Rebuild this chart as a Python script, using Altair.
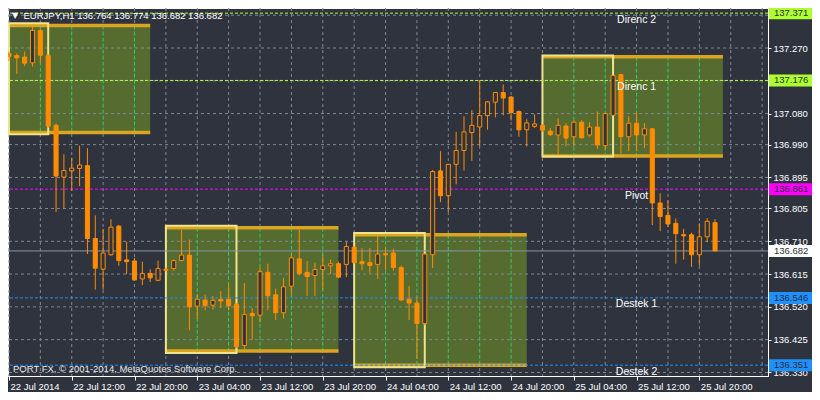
import altair as alt
import pandas as pd

# ---------------- data ----------------
opens = [137.254,137.248,137.244,137.227,137.321,137.248,137.046,136.896,136.914,136.921,
 136.929,136.718,136.629,136.671,136.754,136.656,136.653,136.601,136.617,136.597,
 136.629,136.631,136.654,136.670,136.522,136.540,136.525,136.542,136.542,136.528,
 136.408,136.501,136.496,136.620,136.555,136.503,136.580,136.659,136.620,136.611,
 136.628,136.639,136.645,136.643,136.693,136.651,136.648,136.643,136.674,136.676,
 136.634,136.542,136.531,136.472,136.671,136.914,136.842,136.933,136.973,137.025,
 137.041,137.074,137.113,137.141,137.128,137.086,137.033,137.043,137.046,137.029,
 137.018,137.044,137.013,137.055,137.018,137.041,136.987,137.075,137.193,137.013,
 137.052,137.018,137.036,136.821,136.785,136.762,136.729,136.729,136.671,136.723,
 136.764]
highs = [137.260,137.254,137.260,137.331,137.324,137.251,137.052,136.962,136.952,136.987,
 136.980,136.785,136.746,136.774,136.757,136.709,136.662,136.651,136.629,136.654,
 136.634,136.657,136.744,136.715,136.555,136.555,136.552,136.566,136.584,136.530,
 136.589,136.517,136.634,136.645,136.573,136.604,136.673,136.744,136.653,136.648,
 136.671,136.657,136.651,136.709,136.696,136.690,136.690,136.725,136.692,136.688,
 136.640,136.581,136.550,136.676,136.917,136.971,136.934,137.027,137.072,137.090,
 137.176,137.116,137.142,137.164,137.131,137.089,137.064,137.078,137.049,137.038,
 137.066,137.052,137.060,137.061,137.055,137.086,137.083,137.192,137.195,137.072,
 137.083,137.052,137.038,136.849,136.828,136.776,136.746,136.735,136.762,136.777,
 136.774]
lows = [137.232,137.195,137.217,137.216,137.227,137.038,136.795,136.804,136.856,136.870,
 136.673,136.570,136.570,136.668,136.639,136.615,136.596,136.583,136.592,136.595,
 136.623,136.625,136.652,136.452,136.484,136.510,136.512,136.517,136.510,136.401,
 136.397,136.425,136.475,136.510,136.482,136.486,136.555,136.611,136.552,136.552,
 136.570,136.615,136.603,136.606,136.645,136.626,136.617,136.601,136.626,136.625,
 136.536,136.482,136.369,136.466,136.632,136.823,136.795,136.875,136.915,136.943,
 136.985,137.033,137.069,137.075,137.060,137.013,136.985,137.038,137.027,137.015,
 136.961,136.985,136.985,137.007,137.013,136.978,136.975,137.074,136.965,136.971,
 136.971,136.980,136.757,136.739,136.751,136.645,136.657,136.636,136.639,136.707,
 136.682]
closes = [137.246,137.241,137.226,137.321,137.249,137.044,136.899,136.915,136.922,136.931,
 136.718,136.632,136.676,136.751,136.654,136.651,136.598,136.617,136.604,136.631,
 136.626,136.654,136.670,136.520,136.542,136.524,136.539,136.537,136.524,136.405,
 136.498,136.494,136.622,136.552,136.503,136.578,136.662,136.617,136.608,136.628,
 136.639,136.645,136.606,136.695,136.648,136.645,136.640,136.673,136.671,136.634,
 136.540,136.531,136.472,136.673,136.912,136.842,136.933,136.973,137.027,137.046,
 137.074,137.114,137.141,137.125,137.083,137.033,137.053,137.050,137.032,137.019,
 137.046,137.009,137.055,137.010,137.041,136.989,137.080,137.190,137.013,137.052,
 137.018,137.036,136.821,136.782,136.760,136.732,136.726,136.671,136.723,136.768,
 136.682]

price_ticks = [137.270, 137.080, 136.990, 136.895, 136.805, 136.710,
               136.615, 136.520, 136.425, 136.330]
grid_prices = [137.365, 137.270, 137.175, 137.080, 136.990, 136.895, 136.805,
               136.710, 136.615, 136.520, 136.425, 136.330]
grid_bars = list(range(0, 97, 4))
time_ticks = list(range(0, 89, 8))
time_labels = ["22 Jul 2014", "22 Jul 12:00", "22 Jul 20:00", "23 Jul 04:00",
               "23 Jul 12:00", "23 Jul 20:00", "24 Jul 04:00", "24 Jul 12:00",
               "24 Jul 20:00", "25 Jul 04:00", "25 Jul 12:00", "25 Jul 20:00"]

box_start = [0, 20, 44, 68]
box_end = [18, 42, 66, 91]
session_end = [5, 29, 53, 77]
box_high = [137.335, 136.749, 136.729, 137.245]
box_low = [137.025, 136.392, 136.351, 136.957]
session_high = [137.342, 136.755, 136.734, 137.248]
session_low = [137.020, 136.386, 136.345, 136.956]

level_names = ["Direnc 2", "Direnc 1", "Pivot", "Destek 1", "Destek 2"]
level_prices = [137.371, 137.176, 136.861, 136.546, 136.351]
level_colors = ["#ADFF2F", "#ADFF2F", "#FF00FF", "#1E90FF", "#1E90FF"]
level_label_bar = 80
bid_price = 136.682

symbol = "EURJPY,H1"
copyright_text = "PORT FX, \u00a9 2001-2014, MetaQuotes Software Corp."

# ---------------- styling ----------------
BG = "#2E333E"
GRID = "#7F8896"
ORANGE = "#FF8C00"
OLIVE = "#556B2F"
GOLD = "#DAA520"
KHAKI = "#EFE48C"
INGRID = "#2ECC71"
FONT = "Liberation Sans"
W, H = 760, 368

xs = alt.Scale(domain=[-0.125, 96.75], nice=False, zero=False)
ys = alt.Scale(domain=[136.3197, 137.3859], nice=False, zero=False)

label_arr = "[" + ",".join("'%s'" % t for t in time_labels) + "]"
x_axis = alt.Axis(values=time_ticks, labelExpr=label_arr + "[round(datum.value/8)]",
                  orient="bottom", title=None, grid=False, domainColor="white",
                  tickColor="white", tickSize=4, labelColor="white", labelFont=FONT,
                  labelFontSize=9.5, labelAlign="left", labelBaseline="top",
                  labelPadding=1, labelOffset=1, labelOverlap=False, labelFlush=False)
y_axis = alt.Axis(values=price_ticks, format=".3f", orient="right", title=None,
                  grid=False, domainColor="white", tickColor="white", tickSize=3,
                  labelColor="white", labelFont=FONT, labelFontSize=9.5,
                  labelPadding=2, labelOverlap=False, labelFlush=False,
                  labelBaseline="middle")

# ---------------- tables ----------------
n = len(opens)
candles = pd.DataFrame({"i": list(range(n)), "o": opens, "h": highs, "l": lows, "c": closes})
candles["xl"] = candles["i"] - 0.26
candles["xr"] = candles["i"] + 0.26
candles["fillc"] = [BG if c >= o else ORANGE for o, c in zip(opens, closes)]

boxes = pd.DataFrame({"s": box_start, "e": box_end, "se": session_end,
                      "hi": box_high, "lo": box_low,
                      "shi": session_high, "slo": session_low})

inbox = []
for s, e, hi, lo in zip(box_start, box_end, box_high, box_low):
    for g in grid_bars:
        if s < g < e:
            inbox.append({"g": g, "hi": hi, "lo": lo})
inbox = pd.DataFrame(inbox)

vgrid = pd.DataFrame({"g": grid_bars})
hgrid = pd.DataFrame({"p": grid_prices})
levels = pd.DataFrame({"name": level_names, "p": level_prices, "col": level_colors,
                       "lx": [level_label_bar] * len(level_names)})
tags = pd.DataFrame({
    "p": level_prices + [bid_price],
    "bg": level_colors + ["#FFFFFF"],
})
tags["txt"] = ["%.3f" % v for v in tags["p"]]
header = pd.DataFrame({"t": ["%s  %.3f %.3f %.3f %.3f" % (symbol, opens[-1], highs[-1], lows[-1], closes[-1])]})
tri = pd.DataFrame({"t": ["\u25bc"]})
copy_df = pd.DataFrame({"t": [copyright_text]})

# ---------------- layers ----------------
X = lambda f: alt.X(f, type="quantitative", scale=xs, axis=x_axis)
Y = lambda f: alt.Y(f, type="quantitative", scale=ys, axis=y_axis)

l_vgrid = alt.Chart(vgrid).mark_rule(color=GRID, strokeDash=[3, 3], strokeWidth=1).encode(x=X("g"))
l_olive = alt.Chart(boxes).mark_rect(color=OLIVE, clip=True).encode(
    x=X("s"), x2="e", y=Y("hi"), y2="lo")
l_ingrid = alt.Chart(inbox).mark_rule(color=INGRID, strokeDash=[4, 2], strokeWidth=1).encode(
    x=X("g"), y=Y("hi"), y2="lo")
l_hgrid = alt.Chart(hgrid).mark_rule(color=GRID, strokeDash=[3, 3], strokeWidth=1).encode(y=Y("p"))
l_band_top = alt.Chart(boxes).mark_rule(color=GOLD, strokeWidth=3.5, clip=True).encode(
    x=X("s"), x2="e", y=Y("hi"))
l_band_bot = alt.Chart(boxes).mark_rule(color=GOLD, strokeWidth=3.5, clip=True).encode(
    x=X("s"), x2="e", y=Y("lo"))
l_session = alt.Chart(boxes).mark_rect(filled=False, color=KHAKI, strokeWidth=2, clip=True).encode(
    x=X("s"), x2="se", y=Y("shi"), y2="slo")
l_levels = alt.Chart(levels).mark_rule(strokeDash=[3, 2], strokeWidth=1).encode(
    y=Y("p"), color=alt.Color("col:N", scale=None))
l_bid = alt.Chart(pd.DataFrame({"p": [bid_price]})).mark_rule(color="#8A96A8", strokeWidth=1).encode(y=Y("p"))
l_level_txt = alt.Chart(levels).mark_text(color="white", font=FONT, fontSize=10.5,
                                          baseline="middle", dy=6.5).encode(
    x=X("lx"), y=Y("p"), text="name:N")
l_wick = alt.Chart(candles).mark_rule(color=ORANGE, strokeWidth=1, clip=True).encode(
    x=X("i"), y=Y("l"), y2="h")
l_body = alt.Chart(candles).mark_rect(stroke=ORANGE, strokeWidth=1, clip=True).encode(
    x=X("xl"), x2="xr", y=Y("o"), y2="c", fill=alt.Fill("fillc:N", scale=None))
l_tag = alt.Chart(tags).mark_tick(orient="horizontal", size=43, thickness=12, opacity=1).encode(
    x=alt.value(W + 22.5), y=Y("p"), color=alt.Color("bg:N", scale=None))
l_tag_txt = alt.Chart(tags).mark_text(color="#2A2E38", font=FONT, fontSize=9.5,
                                      align="left", baseline="middle").encode(
    x=alt.value(W + 6), y=Y("p"), text="txt:N")
l_tri = alt.Chart(tri).mark_text(color="white", font="DejaVu Sans", fontSize=8,
                                 align="center", baseline="middle").encode(
    x=alt.value(7), y=alt.value(8), text="t:N")
l_header = alt.Chart(header).mark_text(color="white", font=FONT, fontSize=9.5,
                                       align="left", baseline="middle").encode(
    x=alt.value(15.5), y=alt.value(8), text="t:N")
l_copy = alt.Chart(copy_df).mark_text(color="#E8E8E8", font=FONT, fontSize=9.5,
                                      align="left", baseline="middle").encode(
    x=alt.value(5), y=alt.value(361), text="t:N")

chart = alt.layer(
    l_vgrid, l_olive, l_ingrid, l_hgrid, l_band_top, l_band_bot, l_session,
    l_levels, l_bid, l_wick, l_body, l_level_txt, l_tag, l_tag_txt,
    l_tri, l_header, l_copy
).properties(
    width=W, height=H,
    autosize=alt.AutoSizeParams(type="none"),
    padding={"left": 0, "top": 0, "right": 44, "bottom": 16},
    background=BG,
).configure_view(stroke="white", strokeWidth=1)

chart.save("out.html", embed_options={"renderer": "svg", "actions": False})
